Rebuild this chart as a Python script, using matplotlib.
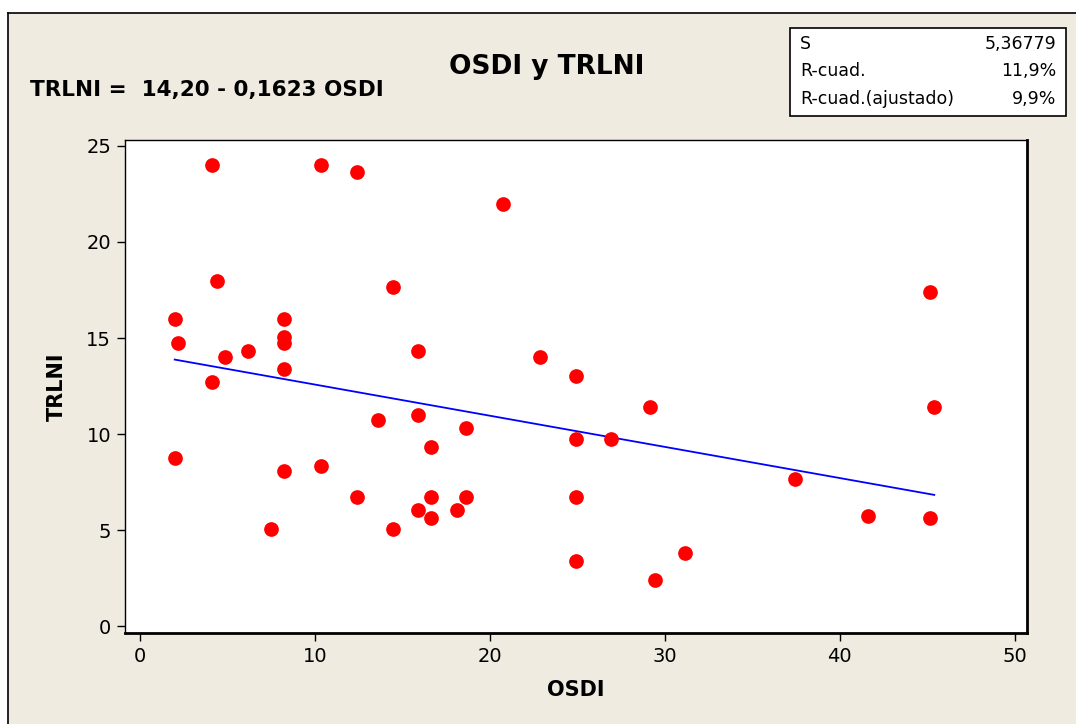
import matplotlib
matplotlib.use("Agg")
import matplotlib.pyplot as plt
import matplotlib.patches as patches
from matplotlib.lines import Line2D
import numpy as np

# data (OSDI vs TRLNI)
osdi = [4.14, 10.37, 12.42, 20.73, 4.43, 14.46, 45.18, 1.99, 8.21, 8.21,
        2.18, 8.21, 6.17, 15.87, 4.87, 22.88, 8.21, 24.93, 4.14, 29.13,
        45.40, 15.87, 13.62, 18.66, 24.93, 26.95, 16.62, 1.99, 10.37, 8.21,
        37.42, 12.42, 16.62, 18.66, 24.93, 15.87, 18.13, 41.62, 16.62, 45.18,
        7.47, 14.46, 24.93, 31.16, 29.46]
trlni = [24.0, 24.0, 23.63, 21.98, 17.95, 17.67, 17.38, 16.0, 16.0, 15.07,
         14.72, 14.72, 14.34, 14.34, 14.03, 14.03, 13.37, 13.04, 12.69, 11.39,
         11.39, 11.01, 10.71, 10.33, 9.74, 9.74, 9.34, 8.75, 8.35, 8.09,
         7.67, 6.70, 6.70, 6.70, 6.70, 6.02, 6.02, 5.73, 5.64, 5.63,
         5.03, 5.03, 3.37, 3.78, 2.40]

intercept = 14.20
slope = -0.1623
stat_names = ["S", "R-cuad.", "R-cuad.(ajustado)"]
stat_values = ["5,36779", "11,9%", "9,9%"]

W, H = 1076, 724
bg = "#EFEBE1"

fig = plt.figure(figsize=(W / 100, H / 100), dpi=100, facecolor="white")
plt.rcParams['font.family'] = ['DejaVu Sans']

def fx(px):
    return px / W

def fy(py):
    return 1 - py / H

# beige panel with black frame (only left/top edges visible in the crop)
fig.add_artist(patches.Rectangle((fx(8), fy(740)), fx(1100), (740 - 13) / H,
                                 transform=fig.transFigure, facecolor=bg,
                                 edgecolor="none", zorder=0))
fig.add_artist(Line2D([fx(8), fx(8)], [fy(13), 0], color="black", lw=1.2))
fig.add_artist(Line2D([fx(8), 1], [fy(13), fy(13)], color="black", lw=1.2))

ax = fig.add_axes([fx(125), fy(633), fx(1027 - 125), (633 - 140) / H])
ax.set_facecolor("white")

ax.scatter(osdi, trlni, s=112, color="#FF0000", zorder=3, linewidths=0)
xs = np.array([min(osdi), max(osdi)])
ax.plot(xs, intercept + slope * xs, color="#0000FF", lw=1.3, zorder=2)

ax.set_xlim(-0.85, 50.7)
ax.set_ylim(-0.36, 25.31)
ax.set_xticks([0, 10, 20, 30, 40, 50])
ax.set_yticks([0, 5, 10, 15, 20, 25])
ax.tick_params(direction="out", length=6, width=1, labelsize=14, colors="black", pad=4)
ax.spines["top"].set_linewidth(1.0)
ax.spines["left"].set_linewidth(1.0)
ax.spines["right"].set_linewidth(2.0)
ax.spines["bottom"].set_linewidth(2.0)

ax.set_xlabel("OSDI", fontsize=15, fontweight="bold", labelpad=10)
ax.set_ylabel("TRLNI", fontsize=15, fontweight="bold", labelpad=14)

fig.text(fx(547), fy(67), "OSDI y TRLNI", fontsize=19, fontweight="bold",
         ha="center", va="center")
fig.text(fx(30), fy(90), "TRLNI =  14,20 - 0,1623 OSDI", fontsize=15.5,
         fontweight="bold", ha="left", va="center")

# statistics box
fig.add_artist(patches.Rectangle((fx(790), fy(116)), fx(1066 - 790), (116 - 28) / H,
                                 transform=fig.transFigure, facecolor="white",
                                 edgecolor="black", lw=1.2))
for i, (name, val) in enumerate(zip(stat_names, stat_values)):
    y = fy(44 + i * 27.5)
    fig.text(fx(800), y, name, fontsize=12.5, ha="left", va="center")
    fig.text(fx(1056), y, val, fontsize=12.5, ha="right", va="center")

fig.savefig("out.png", dpi=100, facecolor=fig.get_facecolor())
